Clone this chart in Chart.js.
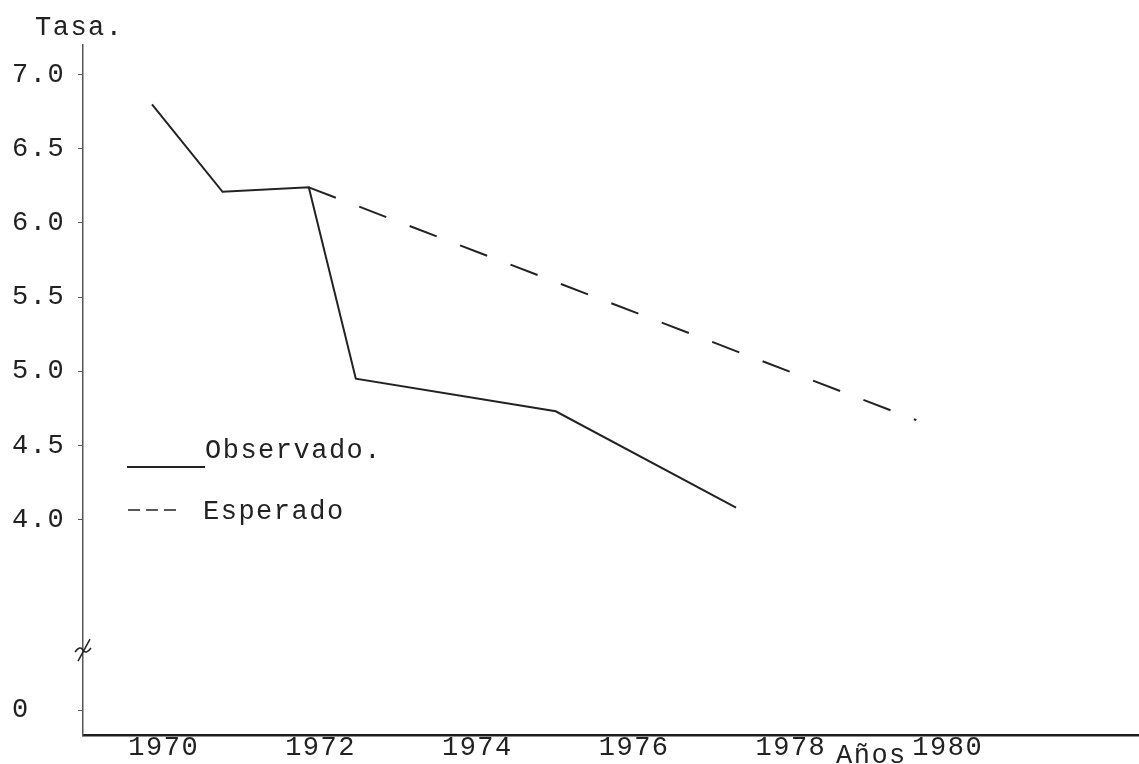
<!DOCTYPE html>
<html>
<head>
<meta charset="utf-8">
<script src="https://cdn.jsdelivr.net/npm/chart.js@4.4.1/dist/chart.umd.min.js"></script>
<style>
  html, body { margin: 0; padding: 0; background: #fff; }
  #wrap { width: 1139px; height: 764px; }
</style>
</head>
<body>
<div id="wrap"><canvas id="chart"></canvas></div>
<script>
// values
const obsYears = [1969.85, 1970.75, 1971.85, 1972.45, 1975.0, 1977.3];
const obsRates = [6.80, 6.21, 6.24, 4.95, 4.73, 4.08];
const expYears = [1971.85, 1979.6];
const expRates = [6.24, 4.67];

const xTickYears = [1970, 1972, 1974, 1976, 1978, 1980];
// broken axis: lowest tick stands for 0
const yTickValues = [2.715, 4.0, 4.5, 5.0, 5.5, 6.0, 6.5, 7.0];
const yTickLabels = ['0', '4.0', '4.5', '5.0', '5.5', '6.0', '6.5', '7.0'];

const FONT = "'Liberation Mono', 'DejaVu Sans Mono', monospace";
const INK = '#222';

function toPoints(xs, ys) {
  return xs.map((x, i) => ({ x: x, y: ys[i] }));
}

/* extra typed bits: titles, legend, axis break */
const typedBits = {
  id: 'typedBits',
  beforeDraw(chart) {
    chart.ctx.letterSpacing = '1.5px';
  },
  afterDraw(chart) {
    const ctx = chart.ctx;
    const y = chart.scales.y;
    const ax = chart.chartArea.left;
    ctx.save();
    ctx.fillStyle = INK;
    ctx.strokeStyle = INK;
    ctx.font = '27px ' + FONT;
    ctx.textBaseline = 'alphabetic';
    ctx.textAlign = 'left';
    ctx.fillText('Tasa.', 35, 35);
    ctx.fillText('Años', 836, 763);

    // legend
    ctx.fillText('Observado.', 205, 458);
    ctx.fillText('Esperado', 203, 519);
    ctx.lineWidth = 2;
    ctx.beginPath();
    ctx.moveTo(127, 467);
    ctx.lineTo(205, 467);
    ctx.stroke();
    ctx.lineWidth = 1.5;
    ctx.setLineDash([12, 6]);
    ctx.beginPath();
    ctx.moveTo(128, 510);
    ctx.lineTo(182, 510);
    ctx.stroke();
    ctx.setLineDash([]);

    // break mark on the y axis
    const by = y.getPixelForValue(3.12);
    ctx.lineWidth = 1.5;
    ctx.beginPath();
    ctx.moveTo(ax - 5, by + 11);
    ctx.lineTo(ax + 7, by - 11);
    ctx.moveTo(ax - 8, by + 2);
    ctx.quadraticCurveTo(ax - 3, by - 5, ax, by);
    ctx.quadraticCurveTo(ax + 3, by + 5, ax + 8, by - 2);
    ctx.stroke();
    ctx.restore();
  }
};

const ctx = document.getElementById('chart').getContext('2d');
const myChart = new Chart(ctx, {
  type: 'line',
  data: {
    datasets: [{
      label: 'Observado.',
      data: toPoints(obsYears, obsRates),
      borderColor: INK,
      borderWidth: 2,
      pointRadius: 0,
      tension: 0
    }, {
      label: 'Esperado',
      data: toPoints(expYears, expRates),
      borderColor: INK,
      borderWidth: 2,
      borderDash: [29, 25],
      pointRadius: 0,
      tension: 0
    }]
  },
  options: {
    responsive: true,
    maintainAspectRatio: false,
    animation: false,
    layout: { padding: { left: 12, top: 45, right: 0, bottom: 0 } },
    plugins: {
      legend: { display: false },
      tooltip: { enabled: false }
    },
    scales: {
      x: {
        type: 'linear',
        min: 1968.97,
        max: 1982.44,
        afterBuildTicks: s => { s.ticks = xTickYears.map(v => ({ value: v })); },
        afterFit: s => { s.height = 29; },
        ticks: {
          callback: (v, i) => String(xTickYears[i]),
          font: { family: FONT, size: 27 },
          color: INK,
          padding: -3,
          maxRotation: 0,
          autoSkip: false
        },
        grid: { display: false, drawTicks: false },
        border: { color: '#1e1e1e', width: 2.5 }
      },
      y: {
        type: 'linear',
        min: 2.547,
        max: 7.2,
        afterBuildTicks: s => { s.ticks = yTickValues.map(v => ({ value: v })); },
        afterFit: s => { s.width = 71; },
        ticks: {
          callback: (v, i) => yTickLabels[i],
          crossAlign: 'far',
          font: { family: FONT, size: 27 },
          color: INK,
          padding: 4,
          autoSkip: false
        },
        grid: { drawOnChartArea: false, tickLength: 5, color: '#555' },
        border: { color: '#555', width: 1.5, dash: [3, 2] }
      }
    }
  },
  plugins: [typedBits]
});
</script>
</body>
</html>
